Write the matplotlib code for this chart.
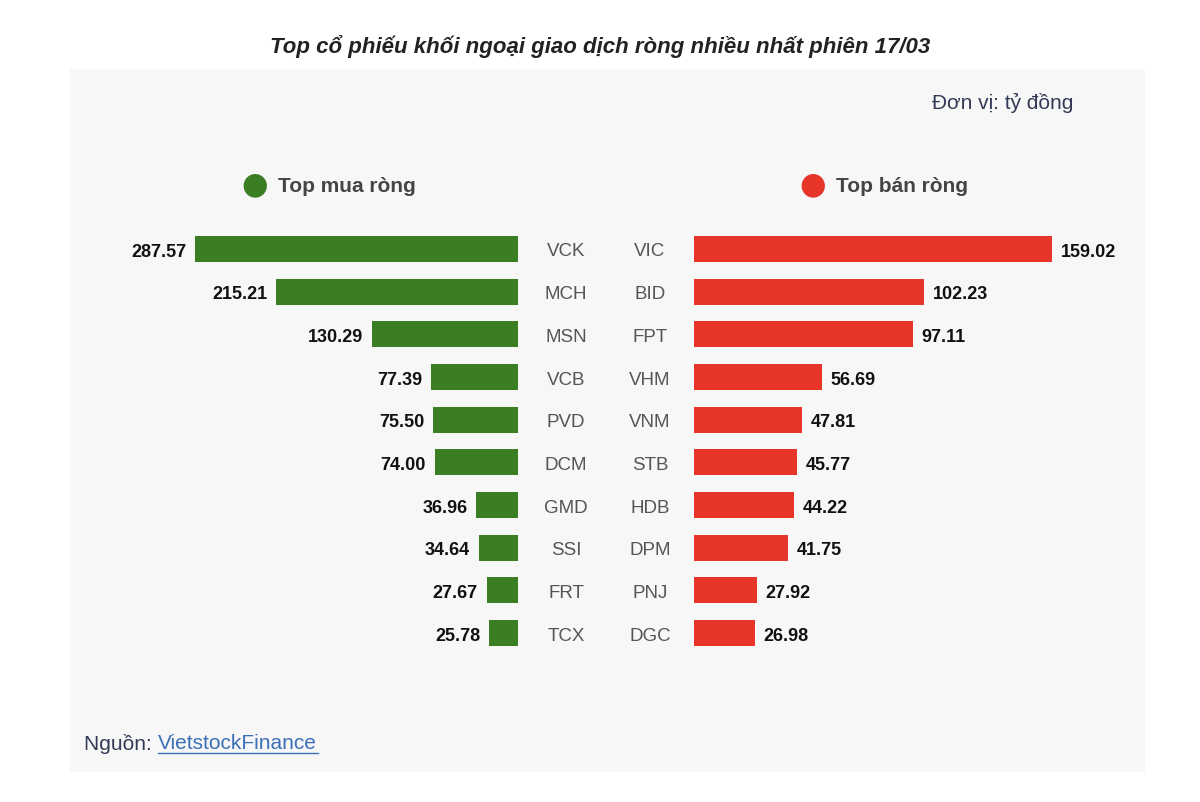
import matplotlib
matplotlib.use("Agg")
import matplotlib.pyplot as plt

plt.rcParams['font.family'] = ['Liberation Sans', 'DejaVu Sans']

buy_tickers = ["VCK","MCH","MSN","VCB","PVD","DCM","GMD","SSI","FRT","TCX"]
buy_values = [287.57,215.21,130.29,77.39,75.50,74.00,36.96,34.64,27.67,25.78]
sell_tickers = ["VIC","BID","FPT","VHM","VNM","STB","HDB","DPM","PNJ","DGC"]
sell_values = [159.02,102.23,97.11,56.69,47.81,45.77,44.22,41.75,27.92,26.98]

W, H = 1200, 803
fig = plt.figure(figsize=(12, 8.03), dpi=100)
fig.patch.set_facecolor("white")

def fx(px): return px / W
def fy(py): return 1 - py / H

bg = fig.add_axes([fx(70), fy(773), (1145-70)/W, (773-70)/H])
bg.set_facecolor("#f7f7f7"); bg.set_xticks([]); bg.set_yticks([])
for s in bg.spines.values(): s.set_visible(False)
bg.set_zorder(0)

GREEN = "#3a7d22"; RED = "#e8352a"
row = 42.67
top = 250 - row; bot = 250 + 10 * row
bh = 26 / row

axL = fig.add_axes([fx(70), fy(bot), fx(518) - fx(70), (bot - top) / H])
axR = fig.add_axes([fx(694), fy(bot), fx(1145) - fx(694), (bot - top) / H])
for ax in (axL, axR):
    ax.set_zorder(2)
    ax.set_facecolor("none")
    ax.axis("off")
    ax.set_ylim(10, -1)

axL.set_xlim(448 / 1.123, 0)
axR.set_xlim(0, 451 / 2.2513)
yl = list(range(len(buy_values)))
axL.barh(yl, buy_values, height=bh, color=GREEN)
axR.barh(yl, sell_values, height=bh, color=RED)
d = 0.05
for i, v in enumerate(buy_values):
    axL.text(v + 8, i + d, f"{v:.2f}", ha="right", va="center", fontsize=13, fontweight="bold", color="#111")
for i, v in enumerate(sell_values):
    axR.text(v + 4, i + d, f"{v:.2f}", ha="left", va="center", fontsize=13, fontweight="bold", color="#111")
for i, (a, b) in enumerate(zip(buy_tickers, sell_tickers)):
    py = 252 + i * row
    fig.text(fx(566), fy(py), a, ha="center", va="center", fontsize=13.5, color="#555")
    fig.text(fx(650), fy(py), b, ha="center", va="center", fontsize=13.5, color="#555")

fig.text(0.5, fy(47), "Top cổ phiếu khối ngoại giao dịch ròng nhiều nhất phiên 17/03",
         ha="center", va="center", fontsize=16, fontweight="bold", fontstyle="italic", color="#222")
fig.text(fx(1073), fy(103), "Đơn vị: tỷ đồng", ha="right", va="center", fontsize=15, color="#333a55")
fig.text(fx(255), fy(185), "●", ha="center", va="center", fontsize=22, color=GREEN, family="DejaVu Sans")
fig.text(fx(278), fy(187), "Top mua ròng", ha="left", va="center", fontsize=15, fontweight="bold", color="#444")
fig.text(fx(813), fy(185), "●", ha="center", va="center", fontsize=22, color=RED, family="DejaVu Sans")
fig.text(fx(836), fy(187), "Top bán ròng", ha="left", va="center", fontsize=15, fontweight="bold", color="#444")
fig.text(fx(84), fy(744), "Nguồn: ", ha="left", va="center", fontsize=15, color="#333a55")
fig.text(fx(158), fy(744), "VietstockFinance", ha="left", va="center", fontsize=15, color="#3b6fb6")
fig.add_artist(plt.Line2D([fx(158), fx(318)], [fy(754), fy(754)], color="#3b6fb6", lw=1, transform=fig.transFigure))

fig.savefig("out.png", dpi=100)
